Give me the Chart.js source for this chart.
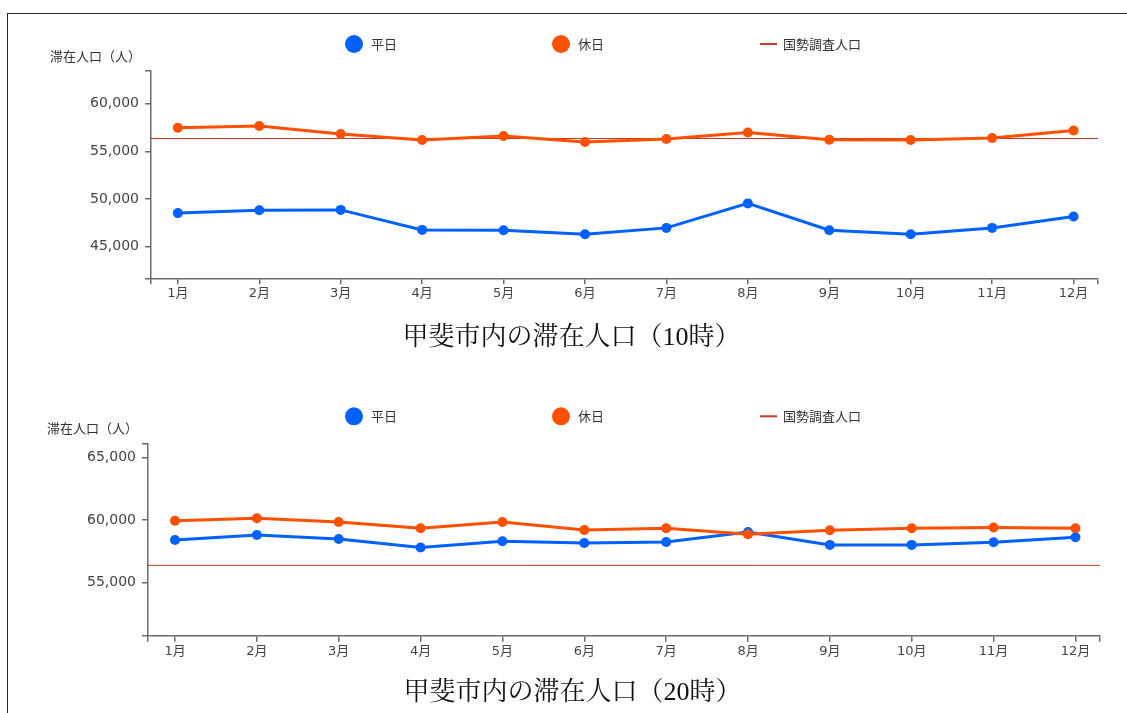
<!DOCTYPE html>
<html lang="ja">
<head>
<meta charset="utf-8">
<script src="https://cdn.jsdelivr.net/npm/chart.js@4"></script>
<style>
  html, body { margin: 0; padding: 0; overflow: hidden; background: #fff; }
  #frame { position: absolute; left: 7px; top: 13px; width: 1300px; height: 900px;
           border-left: 1px solid #1f2a44; border-top: 1px solid #1f2a44; }
  .box { position: absolute; left: 0; width: 1127px; height: 370px; }
</style>
</head>
<body>
<div id="frame"></div>
<div class="box" style="top:0"><canvas id="chart10"></canvas></div>
<div class="box" style="top:370px"><canvas id="chart20"></canvas></div>
<script>
// 月ラベル
const months = ['1月', '2月', '3月', '4月', '5月', '6月', '7月', '8月', '9月', '10月', '11月', '12月'];

// 10時の滞在人口
const weekday10 = [48530, 48840, 48870, 46770, 46740, 46320, 46980, 49550, 46740, 46320, 46980, 48180];
const holiday10 = [57500, 57680, 56830, 56200, 56620, 55990, 56310, 57000, 56230, 56200, 56410, 57210];

// 20時の滞在人口
const weekday20 = [58400, 58800, 58480, 57790, 58290, 58160, 58240, 59040, 58000, 58000, 58210, 58610];
const holiday20 = [59940, 60130, 59840, 59330, 59840, 59200, 59330, 58850, 59170, 59330, 59390, 59330];

// 国勢調査人口
const censusPop = 56360;

const seriesNames = ['平日', '休日', '国勢調査人口'];
const seriesColors = ['#0061ff', '#ff5000', '#c0392b'];
const yCaption = '滞在人口（人）';
const yStep = 5000;

const xMin = -0.33, xMax = 11.3;
const sansFont = '"DejaVu Sans", "Noto Sans CJK JP", sans-serif';
const serifFont = '"Liberation Serif", "Noto Serif CJK JP", "Noto Sans CJK JP", serif';
const axisColor = '#6b6b6b';

function withCommas(v) {
  return String(v).replace(/\B(?=(\d{3})+(?!\d))/g, ',');
}

// 凡例と縦軸の見出し
const captionPlugin = {
  id: 'captions',
  afterDraw(chart) {
    const ctx = chart.ctx;
    const area = chart.chartArea;
    const legendX = [345, 552, 760];
    const legendY = area.top - 27;
    ctx.save();
    ctx.font = '13px "Noto Sans CJK JP", sans-serif';
    ctx.fillStyle = '#333';
    ctx.textBaseline = 'middle';
    ctx.textAlign = 'left';
    ctx.fillText(yCaption, area.left - 101, area.top - 15);

    chart.data.datasets.forEach((ds, i) => {
      const x = legendX[i];
      let textX;
      if (ds.pointRadius === 0) {
        ctx.strokeStyle = ds.borderColor;
        ctx.lineWidth = 2;
        ctx.beginPath();
        ctx.moveTo(x, legendY);
        ctx.lineTo(x + 17, legendY);
        ctx.stroke();
        textX = x + 23;
      } else {
        ctx.fillStyle = ds.borderColor;
        ctx.beginPath();
        ctx.arc(x + 9, legendY, 9, 0, Math.PI * 2);
        ctx.fill();
        textX = x + 26;
      }
      ctx.fillStyle = '#333';
      ctx.fillText(ds.label, textX, legendY);
    });
    ctx.restore();
  }
};

function makeChart(id, titleText, weekday, holiday, lay) {
  const all = weekday.concat(holiday, [censusPop]);
  const yMin = Math.min(...all) * 0.9;
  const yMax = Math.max(...all) * 1.1;

  return new Chart(document.getElementById(id), {
    type: 'line',
    data: {
      datasets: [
        {
          label: seriesNames[0],
          data: weekday.map((v, i) => ({ x: i, y: v })),
          borderColor: seriesColors[0],
          backgroundColor: seriesColors[0],
          borderWidth: 3,
          pointRadius: 5,
          pointBorderWidth: 0,
          order: 1
        },
        {
          label: seriesNames[1],
          data: holiday.map((v, i) => ({ x: i, y: v })),
          borderColor: seriesColors[1],
          backgroundColor: seriesColors[1],
          borderWidth: 3,
          pointRadius: 5,
          pointBorderWidth: 0,
          order: 0
        },
        {
          label: seriesNames[2],
          data: [{ x: xMin, y: censusPop }, { x: xMax, y: censusPop }],
          borderColor: seriesColors[2],
          borderWidth: 1,
          pointRadius: 0,
          order: 2
        }
      ]
    },
    options: {
      responsive: true,
      maintainAspectRatio: false,
      animation: false,
      layout: { padding: { left: lay.left, right: lay.right, top: lay.top, bottom: lay.bottom } },
      plugins: {
        legend: { display: false },
        tooltip: { enabled: false },
        title: {
          display: true,
          position: 'bottom',
          text: titleText,
          color: '#111',
          font: { family: serifFont, size: 26, weight: 'normal' },
          padding: { top: 8, bottom: 8 }
        }
      },
      scales: {
        x: {
          type: 'linear',
          min: xMin,
          max: xMax,
          afterFit: s => { s.height = lay.xHeight; },
          // 両端の外側目盛りと各月の目盛り
          afterBuildTicks: s => {
            s.ticks = [{ value: xMin }].concat(months.map((m, i) => ({ value: i })), [{ value: xMax }]);
          },
          ticks: {
            autoSkip: false,
            maxRotation: 0,
            padding: 2,
            color: '#444',
            font: { family: sansFont, size: 13 },
            callback: v => (Number.isInteger(v) && v >= 0 && v < months.length) ? months[v] : ''
          },
          grid: { drawOnChartArea: false, drawTicks: true, tickLength: 6, color: axisColor, lineWidth: 1.5 },
          border: { color: axisColor, width: 1.5 }
        },
        y: {
          min: yMin,
          max: yMax,
          afterFit: s => { s.width = lay.yWidth; },
          afterBuildTicks: s => {
            const t = [{ value: yMin }];
            for (let v = Math.ceil(yMin / yStep) * yStep; v <= yMax; v += yStep) t.push({ value: v });
            t.push({ value: yMax });
            s.ticks = t;
          },
          ticks: {
            autoSkip: false,
            padding: 6,
            color: '#444',
            font: { family: sansFont, size: 14 },
            callback: v => (v % yStep === 0) ? withCommas(v) : ''
          },
          grid: { drawOnChartArea: false, drawTicks: true, tickLength: 6, color: axisColor, lineWidth: 1.5 },
          border: { color: axisColor, width: 1.5 }
        }
      }
    },
    plugins: [captionPlugin]
  });
}

makeChart('chart10', '甲斐市内の滞在人口（10時）', weekday10, holiday10,
  { left: 45, right: 29, top: 71, bottom: 8.4, yWidth: 106, xHeight: 36.1 });

makeChart('chart20', '甲斐市内の滞在人口（20時）', weekday20, holiday20,
  { left: 45, right: 27, top: 73.3, bottom: 23.4, yWidth: 103, xHeight: 33.7 });
</script>
</body>
</html>
